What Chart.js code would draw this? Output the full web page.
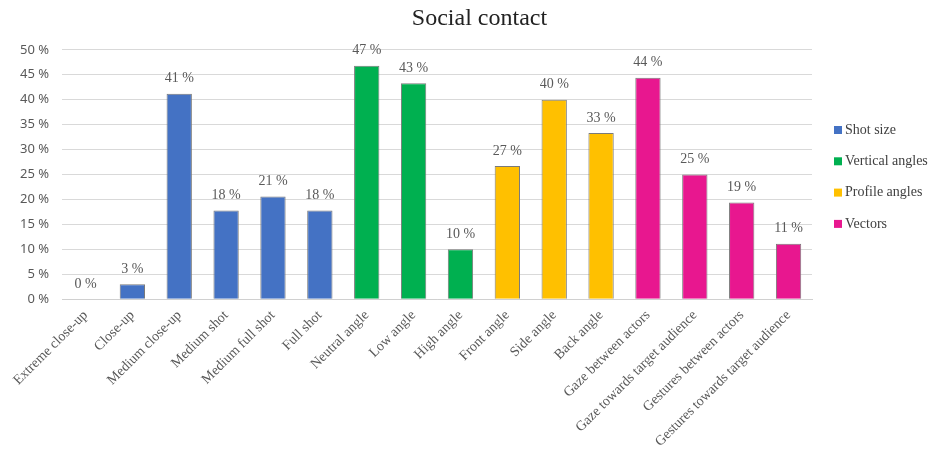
<!DOCTYPE html>
<html>
<head>
<meta charset="utf-8">
<script src="https://cdn.jsdelivr.net/npm/chart.js@4/dist/chart.umd.min.js"></script>
<style>
  body { margin: 0; background: #fff; }
  #wrap { width: 952px; height: 460px; }
</style>
</head>
<body>
<div id="wrap"><canvas id="contactChart" width="952" height="460"></canvas></div>
<script>
const categories = [
    "Extreme close-up", "Close-up", "Medium close-up", "Medium shot",
    "Medium full shot", "Full shot", "Neutral angle", "Low angle",
    "High angle", "Front angle", "Side angle", "Back angle",
    "Gaze between actors", "Gaze towards target audience",
    "Gestures between actors", "Gestures towards target audience"
];
// values in %, null where the category belongs to another group
const shotSize = [0, 3, 41.2, 17.8, 20.6, 17.8, null, null, null, null, null, null, null, null, null, null];
const verticalAngles = [null, null, null, null, null, null, 46.8, 43.3, 10, null, null, null, null, null, null, null];
const profileAngles = [null, null, null, null, null, null, null, null, null, 26.7, 40, 33.3, null, null, null, null];
const vectors = [null, null, null, null, null, null, null, null, null, null, null, null, 44.4, 25, 19.4, 11.1];
const yTicks = [0, 5, 10, 15, 20, 25, 30, 35, 40, 45, 50];

const serif = "'Liberation Serif', 'Times New Roman', serif";
const textGray = "#595959";

function series(label, data, color) {
    return {
        label: label,
        data: data,
        backgroundColor: color,
        borderColor: "#7a7a7a",
        borderWidth: 1,
        borderSkipped: "bottom",
        skipNull: true,
        barPercentage: 0.54,
        categoryPercentage: 1,
    };
}

// value labels above bars
const barLabels = {
    id: "barLabels",
    afterDatasetsDraw(chart) {
        const ctx = chart.ctx;
        ctx.save();
        ctx.font = "14px " + serif;
        ctx.fillStyle = textGray;
        ctx.textAlign = "center";
        ctx.textBaseline = "bottom";
        chart.data.datasets.forEach((ds, i) => {
            chart.getDatasetMeta(i).data.forEach((bar, j) => {
                if (ds.data[j] === null) return;
                ctx.fillText(Math.round(ds.data[j]) + " %", bar.x, bar.y - 8);
            });
        });
        ctx.restore();
    },
};

// legend drawn in the space on the right
const sideLegend = {
    id: "sideLegend",
    afterDraw(chart) {
        const ctx = chart.ctx;
        ctx.save();
        ctx.font = "14px " + serif;
        ctx.textBaseline = "middle";
        chart.data.datasets.forEach((ds, i) => {
            const y = 130 + i * 31.3;
            ctx.fillStyle = ds.backgroundColor;
            ctx.fillRect(834, y - 4, 8, 8);
            ctx.fillStyle = "#404040";
            ctx.fillText(ds.label, 845, y);
        });
        ctx.restore();
    },
};

new Chart(document.getElementById("contactChart"), {
    type: "bar",
    data: {
        labels: categories,
        datasets: [
            series("Shot size", shotSize, "#4472C4"),
            series("Vertical angles", verticalAngles, "#00B050"),
            series("Profile angles", profileAngles, "#FFC000"),
            series("Vectors", vectors, "#E8178F"),
        ],
    },
    options: {
        responsive: false,
        animation: false,
        layout: { padding: { left: 7, right: 0, top: 4, bottom: 2 } },
        scales: {
            x: {
                grid: { display: false, drawTicks: false },
                border: { color: "#d0d0d0" },
                ticks: {
                    autoSkip: false,
                    maxRotation: 45,
                    minRotation: 45,
                    padding: 8,
                    color: textGray,
                    font: { family: serif, size: 14 },
                },
            },
            y: {
                min: 0,
                max: 50,
                afterBuildTicks: (axis) => {
                    axis.ticks = yTicks.map((v) => ({ value: v }));
                },
                grid: { color: "#d9d9d9", drawTicks: false },
                border: { display: false },
                ticks: {
                    padding: 13,
                    color: textGray,
                    font: { family: "'Noto Sans', sans-serif", size: 13 },
                    callback: (v) => v + " %",
                },
            },
            // empty axis that keeps room for the legend
            legendSpace: {
                position: "right",
                grid: { display: false },
                border: { display: false },
                ticks: { display: false },
                afterFit: (axis) => {
                    axis.width = 140;
                },
            },
        },
        plugins: {
            legend: { display: false },
            tooltip: { enabled: false },
            title: {
                display: true,
                text: "Social contact",
                color: "#222",
                font: { family: serif, size: 24, weight: "normal" },
                padding: { top: 0, bottom: 17 },
            },
        },
    },
    plugins: [barLabels, sideLegend],
});
</script>
</body>
</html>
